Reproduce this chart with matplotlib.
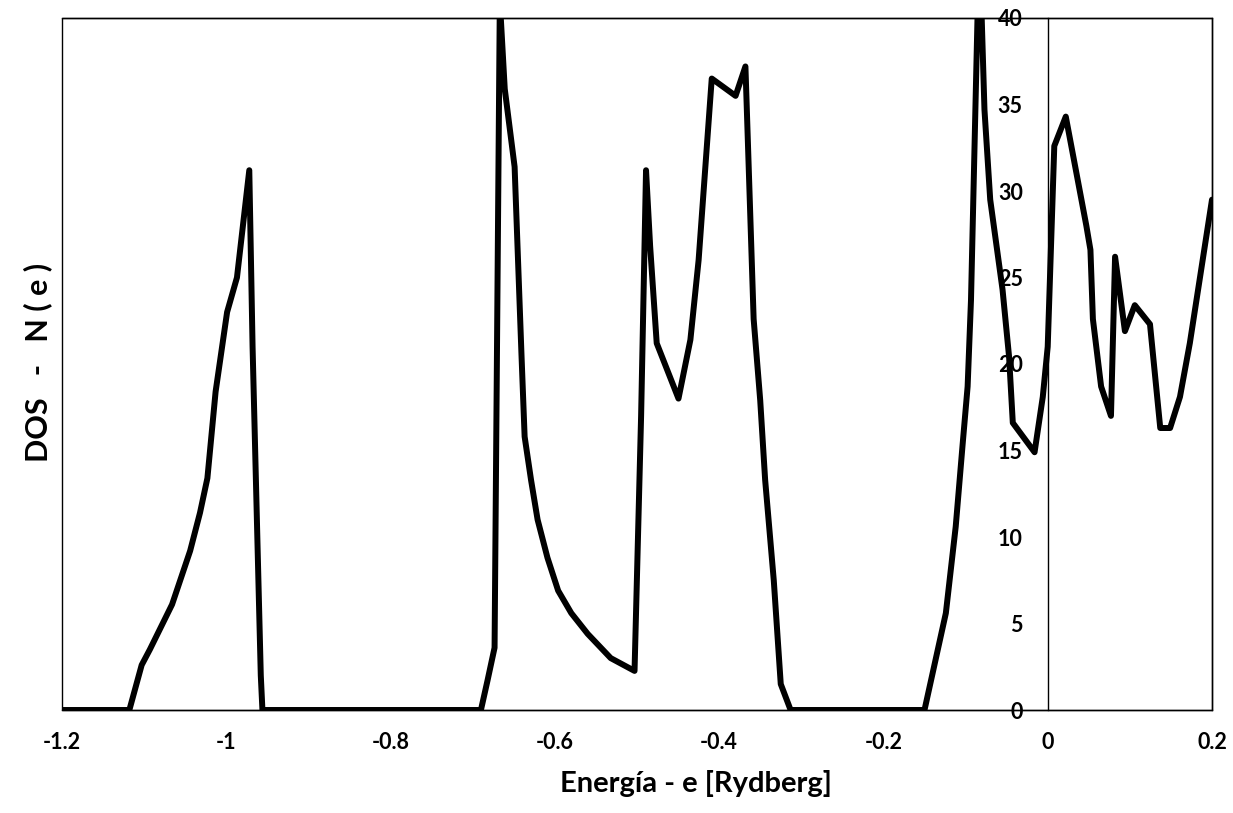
import matplotlib
matplotlib.use("Agg")
import matplotlib.pyplot as plt

energy = [-1.200, -1.118, -1.103, -1.093, -1.066, -1.044, -1.032, -1.023, -1.013,
          -0.999, -0.987, -0.972, -0.968, -0.958, -0.956,
          -0.690, -0.682, -0.6734, -0.667, -0.661, -0.649, -0.6406, -0.6368, -0.629,
          -0.621, -0.609, -0.596, -0.580, -0.560, -0.532, -0.503,
          -0.495, -0.489, -0.484, -0.476, -0.4495, -0.435, -0.425, -0.409, -0.380,
          -0.368, -0.358, -0.350, -0.344, -0.3335, -0.325, -0.313,
          -0.150, -0.124, -0.112, -0.1035, -0.0975, -0.0934, -0.085, -0.081, -0.077,
          -0.070, -0.055, -0.047, -0.0425, -0.016, -0.006, 0.000, 0.008, 0.022,
          0.047, 0.052, 0.055, 0.065, 0.077, 0.082, 0.094, 0.106, 0.1245, 0.137,
          0.149, 0.161, 0.173, 0.200]
dos = [0, 0, 2.6, 3.5, 6.1, 9.2, 11.4, 13.4, 18.4,
       23.0, 25.0, 31.2, 21.0, 2.0, 0,
       0, 1.7, 3.6, 41.0, 35.9, 31.4, 20.5, 15.8, 13.3,
       11.0, 8.8, 6.9, 5.6, 4.4, 3.0, 2.26,
       17.0, 31.2, 26.8, 21.2, 18.0, 21.4, 26.0, 36.5, 35.5,
       37.2, 22.6, 17.9, 13.3, 7.5, 1.5, 0,
       0, 5.6, 10.6, 15.4, 18.7, 23.7, 41.0, 41.0, 34.7,
       29.5, 24.3, 20.4, 16.6, 14.9, 18.1, 21.0, 32.6, 34.3,
       28.0, 26.6, 22.6, 18.7, 17.0, 26.2, 21.9, 23.4, 22.3, 16.3,
       16.3, 18.1, 21.2, 29.5]

x_ticks = [-1.2, -1.0, -0.8, -0.6, -0.4, -0.2, 0.0, 0.2]
x_tick_labels = ["-1.2", "-1", "-0.8", "-0.6", "-0.4", "-0.2", "0", "0.2"]
y_ticks = [0, 5, 10, 15, 20, 25, 30, 35, 40]
x_label = "Energía - e [Rydberg]"
y_label = "DOS   -   N ( e )"

plt.rcParams['font.family'] = ['Lato', 'DejaVu Sans']

fig = plt.figure(figsize=(12.33, 8.13), dpi=100)
ax = fig.add_axes([62/1233, 1-710/813, (1212-62)/1233, (710-18)/813])

ax.plot(energy, dos, color='black', lw=4.3, solid_joinstyle='round', solid_capstyle='round')

ax.set_xlim(-1.2, 0.2)
ax.set_ylim(0, 40)

for s in ['top', 'right', 'bottom']:
    ax.spines[s].set_linewidth(1.0)
    ax.spines[s].set_color('black')
ax.spines['left'].set_position(('data', 0))
ax.spines['left'].set_linewidth(1.0)
ax.patch.set_edgecolor('black')
ax.patch.set_linewidth(1.0)
ax.patch.set_visible(True)

ax.set_xticks(x_ticks)
ax.set_xticklabels(x_tick_labels)
ax.set_yticks(y_ticks)
ax.tick_params(axis='x', length=0, pad=16, labelsize=15.5)
ax.tick_params(axis='y', length=0, pad=18, labelsize=15.5)
for lbl in ax.get_xticklabels() + ax.get_yticklabels():
    lbl.set_fontweight('bold')

fig.text(696/1233, 1-783/813, x_label, ha='center', va='center', fontsize=21, fontweight='bold')
fig.text(38/1233, 1-362/813, y_label, ha='center', va='center', rotation=90, fontsize=22, fontweight='bold')

fig.savefig("out.png", dpi=100)
